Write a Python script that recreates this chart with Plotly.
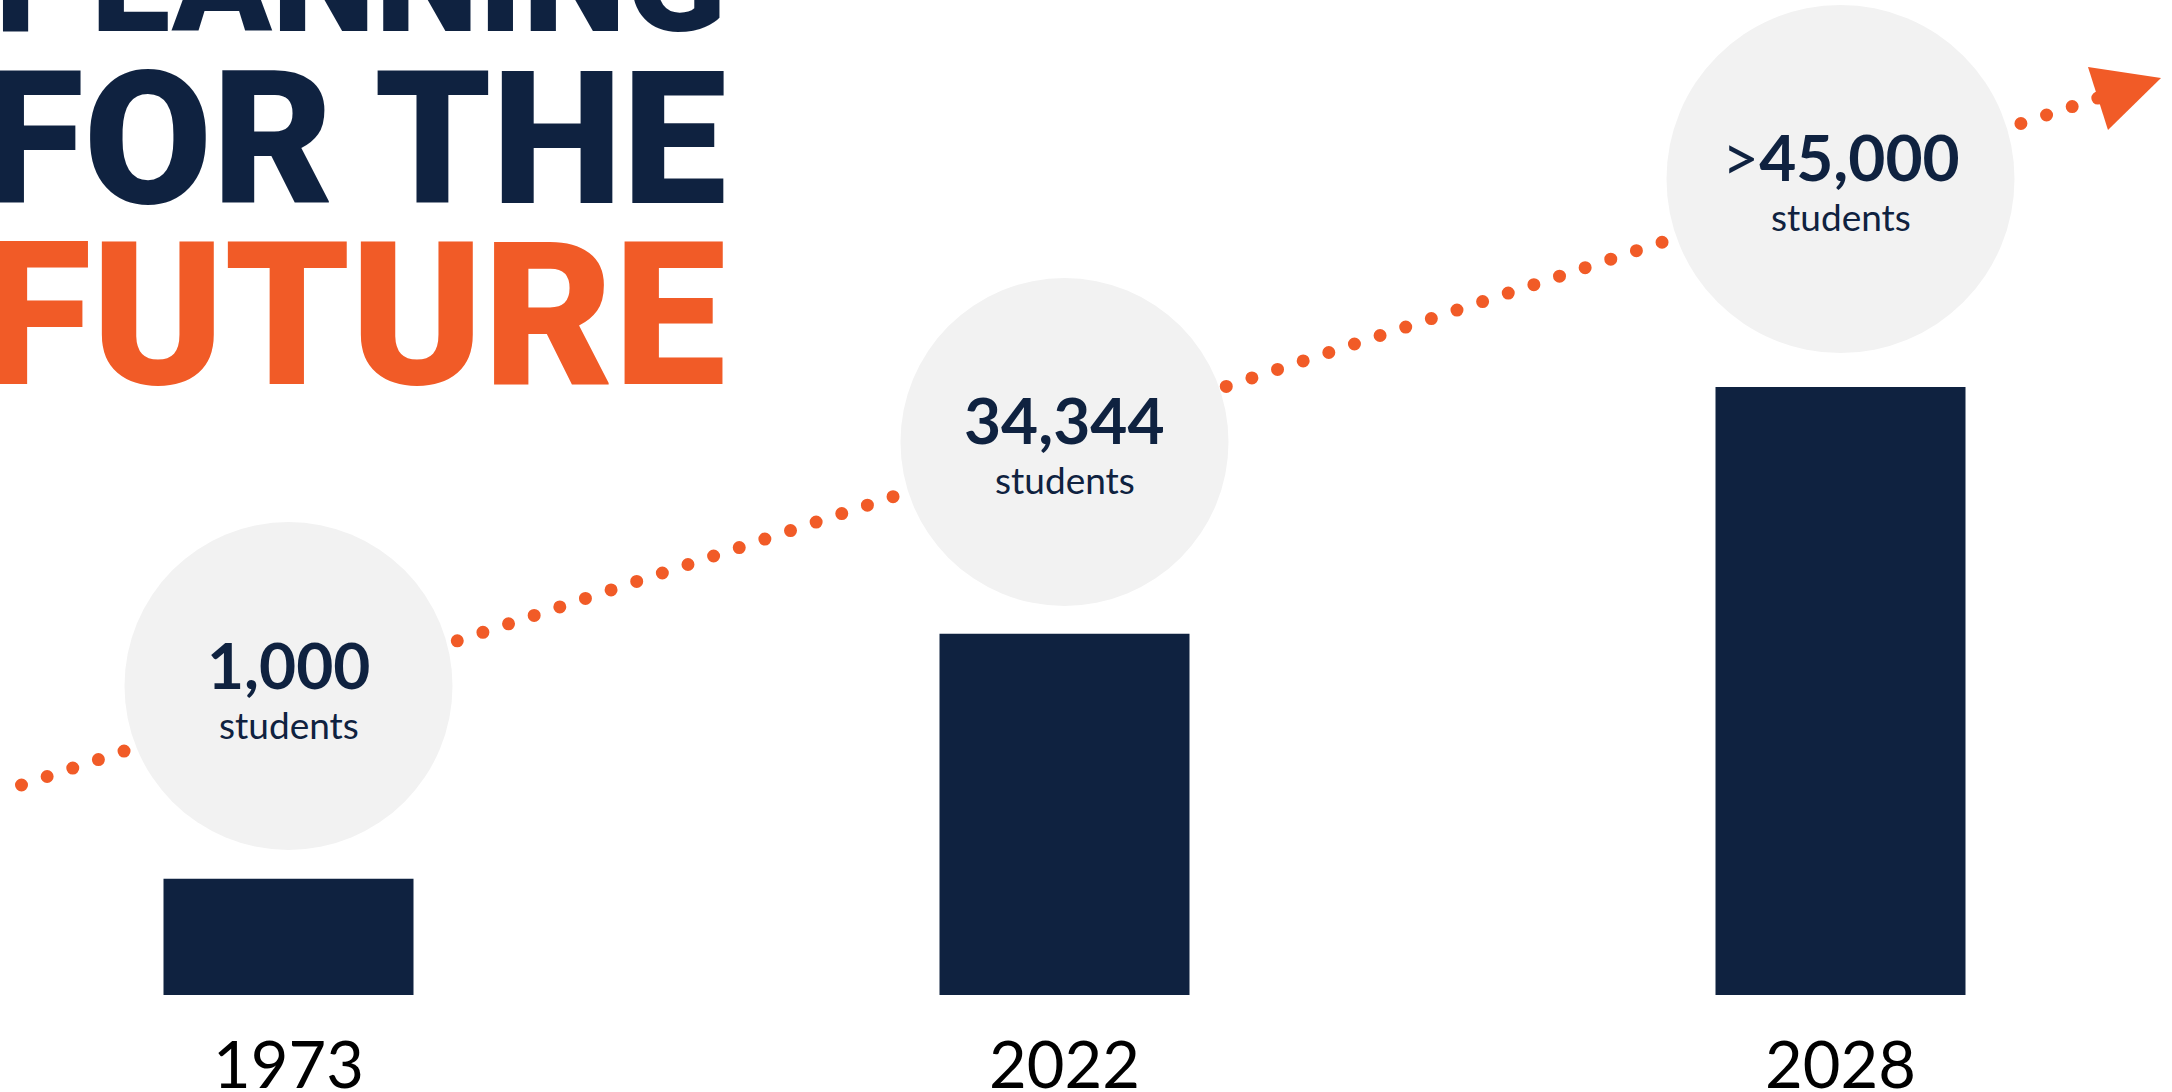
import plotly.graph_objects as go

# ---------------- data ----------------
years = ["1973", "2022", "2028"]
student_labels = ["1,000", "34,344", ">45,000"]
unit_label = "students"
# relative bar heights as drawn in the picture (tallest bar = 100)
bar_heights = [19.1, 59.4, 100.0]
title_lines = ["PLANNING", "FOR THE", "FUTURE"]

# ---------------- styling / layout constants ----------------
NAVY = "#0f2240"
ORANGE = "#f15b27"
GRAY = "#f2f2f2"
W, H = 2172, 1092
PLOT_BOTTOM = 995          # px from top of figure where bars sit
CAT_SPACING = 776          # px between category centres
FIRST_CENTER = 288.5       # px of first category centre
BAR_WIDTH_PX = 250
TITLE_FONT = ("'Noto Sans Condensed Black', 'Noto Sans ExtraCondensed Black', "
              "'Roboto Black', Roboto, sans-serif")

def px(x):
    return x / W

def py(y):
    return (PLOT_BOTTOM - y) / PLOT_BOTTOM

circle_cy = [686, 442, 179]
circle_r = [164, 164, 174]

r0 = -FIRST_CENTER / CAT_SPACING
r1 = r0 + W / CAT_SPACING
ymax = max(bar_heights) * PLOT_BOTTOM / 608.0

fig = go.Figure()
fig.add_trace(go.Bar(
    x=years, y=bar_heights,
    width=BAR_WIDTH_PX / CAT_SPACING,
    marker=dict(color=NAVY, line=dict(width=0)),
    hoverinfo="skip",
))

shapes = []
# dotted trend line
shapes.append(dict(
    type="line", xref="paper", yref="paper",
    x0=px(21.5), y0=py(785), x1=px(2098), y1=py(98),
    line=dict(color=ORANGE, width=13, dash="0px,27px"),
    layer="above",
))
# arrow head
shapes.append(dict(
    type="path", xref="paper", yref="paper",
    path="M {:.5f} {:.5f} L {:.5f} {:.5f} L {:.5f} {:.5f} Z".format(
        px(2088), py(67), px(2161), py(78), px(2108), py(130)),
    fillcolor=ORANGE, line=dict(width=0), layer="above",
))
# circles behind labels (anchored on the category positions)
for i, (cy, r) in enumerate(zip(circle_cy, circle_r)):
    shapes.append(dict(
        type="circle", xref="x", yref="paper",
        xsizemode="pixel", ysizemode="pixel",
        xanchor=i, yanchor=py(cy),
        x0=-r, x1=r, y0=-r, y1=r,
        fillcolor=GRAY, line=dict(width=0), layer="above",
    ))

annotations = []
for i, (lab, cy) in enumerate(zip(student_labels, circle_cy)):
    txt = lab
    if lab.startswith(">"):
        txt = "<span style='font-weight:400'>&gt;</span>" + lab[1:]
    annotations.append(dict(
        xref="x", yref="paper", x=i, y=py(cy), yshift=22,
        text=txt, showarrow=False, xanchor="center", yanchor="middle",
        font=dict(family="Lato", size=64, color=NAVY, weight=700),
    ))
    annotations.append(dict(
        xref="x", yref="paper", x=i, y=py(cy), yshift=-38,
        text=unit_label, showarrow=False, xanchor="center", yanchor="middle",
        font=dict(family="Lato", size=37, color=NAVY),
    ))

# big title (partly cropped at the top/left as in the source)
title_specs = [(title_lines[0], -19, 147, NAVY),
               (title_lines[1], 138.5, 186, NAVY),
               (title_lines[2], 316, 200, ORANGE)]
for txt, cy, size, col in title_specs:
    annotations.append(dict(
        xref="paper", yref="paper", x=px(728), y=py(cy),
        text=txt, showarrow=False, xanchor="right", yanchor="middle",
        font=dict(family=TITLE_FONT, size=size, color=col, weight=900),
    ))

fig.update_layout(
    width=W, height=H, autosize=False,
    margin=dict(l=0, r=0, t=0, b=H - PLOT_BOTTOM, pad=0, autoexpand=False),
    paper_bgcolor="white", plot_bgcolor="white",
    showlegend=False,
    shapes=shapes, annotations=annotations,
    xaxis=dict(type="category", range=[r0, r1], showgrid=False, zeroline=False,
               showline=False, ticks="", ticklabelstandoff=27, automargin=False,
               tickfont=dict(family="Lato", size=65, color="black"),
               fixedrange=True),
    yaxis=dict(range=[0, ymax], visible=False, showgrid=False, zeroline=False,
               automargin=False, fixedrange=True),
)

post = """
document.documentElement.style.margin = '0';
document.documentElement.style.overflow = 'hidden';
document.body.style.margin = '0';
document.body.style.overflow = 'hidden';
var st = document.createElement('style');
st.textContent = '.shapelayer path { stroke-linecap: round; }';
document.head.appendChild(st);
"""
fig.write_html("out.html", post_script=post, config={"displayModeBar": False})
